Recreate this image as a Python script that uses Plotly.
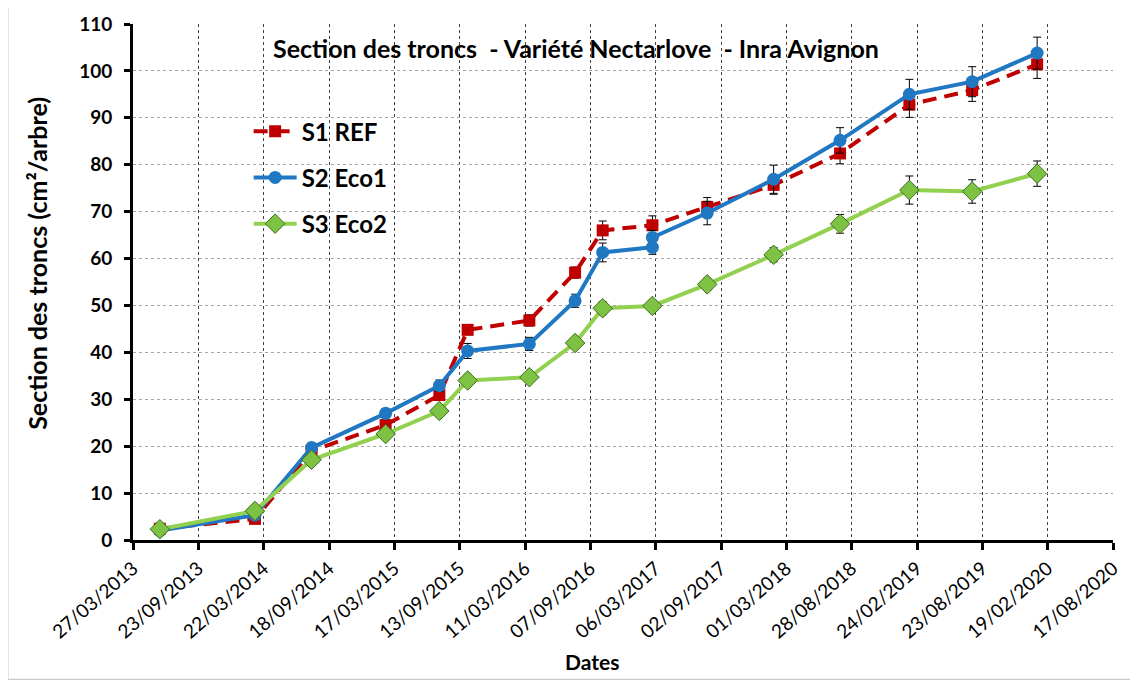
import plotly.graph_objects as go

dates = ['2013-06-09', '2014-02-26', '2014-08-01', '2015-02-21', '2015-07-19', '2015-10-05',
         '2016-03-23', '2016-07-27', '2016-10-11', '2017-02-25', '2017-07-26', '2018-01-25',
         '2018-07-27', '2019-02-03', '2019-07-26', '2020-01-21']
# S2 has two readings around the 02/2017 date
dates_s2 = dates[:10] + ['2017-02-25'] + dates[10:]

s1_ref = [2.4, 4.5, 19.0, 24.5, 30.9, 44.8, 46.8, 57.0, 66.0, 67.1, 71.0, 75.7, 82.4, 92.8, 95.9, 101.4]
s1_err = [0.5, 0.6, 0.8, 1.0, 1.0, 1.0, 1.2, 1.2, 2.0, 2.0, 2.0, 2.0, 2.2, 2.7, 2.4, 3.0]

s2_eco1 = [2.0, 5.3, 19.7, 27.0, 32.9, 40.3, 41.8, 51.0, 61.3, 62.4, 64.5, 69.7, 76.9, 85.2, 95.0, 97.7, 103.8]
s2_err = [0.4, 0.6, 1.0, 1.0, 1.2, 1.6, 1.4, 1.4, 2.0, 1.5, 1.5, 2.5, 3.0, 2.7, 3.2, 3.2, 3.4]

s3_eco2 = [2.3, 6.2, 17.1, 22.6, 27.5, 34.0, 34.7, 42.0, 49.4, 49.9, 54.5, 60.8, 67.4, 74.6, 74.3, 78.1]
s3_err = [0.4, 0.5, 0.8, 0.8, 1.0, 1.0, 1.0, 1.0, 1.4, 1.2, 1.3, 1.5, 2.0, 3.0, 2.5, 2.7]

FONT = 'Lato'
DAY_MS = 86400000

fig = go.Figure()

fig.add_trace(go.Scatter(x=dates, y=s1_ref, name='S1 REF', mode='lines+markers',
                         legendgroup='s1',
                         line=dict(color='#C00000', width=4, dash='14px,8px'),
                         marker=dict(symbol='square', size=12, color='#C00000'),
                         error_y=dict(type='data', array=s1_err, color='black', thickness=1, width=4)))

fig.add_trace(go.Scatter(x=dates_s2, y=s2_eco1, name='S2 Eco1', mode='lines+markers',
                         legendgroup='s2',
                         line=dict(color='#1F78C1', width=4),
                         marker=dict(symbol='circle', size=13, color='#1F78C1'),
                         error_y=dict(type='data', array=s2_err, color='black', thickness=1, width=4)))

fig.add_trace(go.Scatter(x=dates, y=s3_eco2, name='S3 Eco2', mode='lines+markers',
                         legendgroup='s3',
                         line=dict(color='#92D050', width=4),
                         marker=dict(symbol='diamond', size=15, color='#7DC243',
                                     line=dict(color='#3D6B22', width=1)),
                         error_y=dict(type='data', array=s3_err, color='black', thickness=1, width=4)))

fig.update_layout(width=1130,
                  height=673,
                  margin=dict(l=125, r=25, t=16, b=141, autoexpand=False),
                  paper_bgcolor='white',
                  plot_bgcolor='white',
                  font=dict(family=FONT, color='black'),
                  showlegend=True,
                  legend=dict(x=0.118, y=0.835, xanchor='left', yanchor='top',
                              bgcolor='rgba(0,0,0,0)',
                              font=dict(size=24, family=FONT, weight='bold'),
                              tracegroupgap=12,
                              itemwidth=43),
                  xaxis=dict(type='date',
                             range=['2013-03-27', '2020-08-17'],
                             tick0='2013-03-27',
                             dtick=180 * DAY_MS,
                             tickformat='%d/%m/%Y',
                             tickangle=-41,
                             tickfont=dict(size=19, family=FONT),
                             automargin=False,
                             showline=True, linecolor='black', linewidth=3,
                             ticks='outside', ticklen=7, tickwidth=2.5, tickcolor='black',
                             showgrid=True, gridcolor='#404040', gridwidth=1, griddash='dot',
                             zeroline=False),
                  yaxis=dict(range=[0, 110],
                             dtick=10,
                             tickfont=dict(size=19, family=FONT, weight='bold'),
                             automargin=False,
                             ticklabelstandoff=8,
                             showline=True, linecolor='black', linewidth=3,
                             ticks='outside', ticklen=6, tickwidth=2.5, tickcolor='black',
                             showgrid=True, gridcolor='#A6A6A6', gridwidth=1, griddash='dot',
                             zeroline=False))

fig.add_annotation(text='Section des troncs  - Variété Nectarlove  - Inra Avignon',
                   xref='paper', yref='paper', x=0.452, y=0.953,
                   xanchor='center', yanchor='middle', showarrow=False,
                   font=dict(size=25, family=FONT, weight='bold', color='black'))

# axis titles as annotations so they sit where the original puts them
fig.add_annotation(text='Section des troncs (cm²/arbre)',
                   xref='paper', yref='paper', x=-0.098, y=0.537, textangle=-90,
                   xanchor='center', yanchor='middle', showarrow=False,
                   font=dict(size=25, family=FONT, weight='bold', color='black'))
fig.add_annotation(text='Dates',
                   xref='paper', yref='paper', x=0.468, y=-0.236,
                   xanchor='center', yanchor='middle', showarrow=False,
                   font=dict(size=21, family=FONT, weight='bold', color='black'))

# light frame round the whole chart
fig.add_shape(type='rect', xref='paper', yref='paper',
              x0=-0.1276, x1=1.0224, y0=-0.27, y1=1.035,
              line=dict(color='#BFBFBF', width=1), layer='below')

fig.write_html('out.html')
